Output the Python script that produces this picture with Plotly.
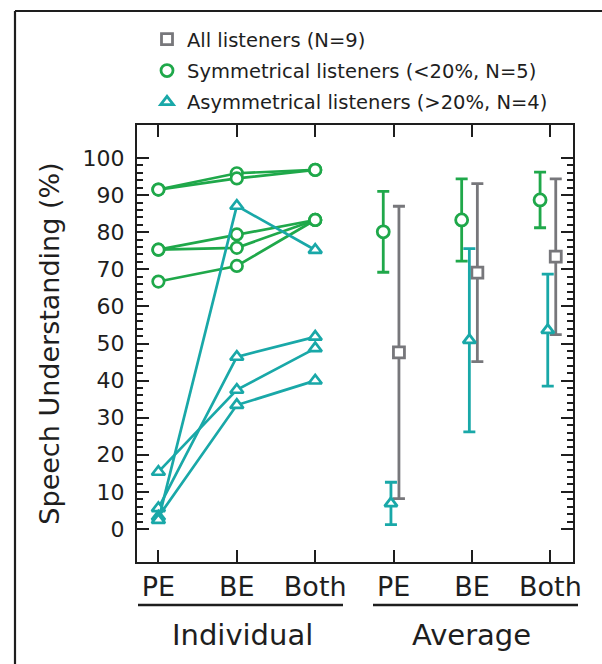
import plotly.graph_objects as go

# ---------------- data ----------------
categories = ["PE", "BE", "Both"]
cat_pos_individual = [1, 2, 3]
cat_pos_average = [4, 5, 6]
tick_labels = ["PE", "BE", "Both", "PE", "BE", "Both"]

# Individual listeners (symmetrical, <20%)
sym_listeners = [
    [91.5, 95.9, 96.8],
    [91.5, 94.5, 96.8],
    [75.3, 79.4, 83.3],
    [75.3, 75.8, 83.3],
    [66.7, 70.9, 83.3],
]
# Individual listeners (asymmetrical, >20%)
asym_listeners = [
    [15.4, 37.5, 48.7],
    [5.6, 46.4, 51.8],
    [3.3, 33.4, 40.0],
    [2.4, 87.1, 75.2],
]

# Averages and error bars
avg_all = [47.6, 69.1, 73.4]
err_all = [39.4, 24.0, 21.0]
avg_sym = [80.1, 83.3, 88.7]
err_sym = [10.9, 11.1, 7.5]
avg_asym = [6.9, 50.9, 53.6]
err_asym = [5.7, 24.7, 15.1]

legend_names = ["All listeners (N=9)",
                "Symmetrical listeners (<20%, N=5)",
                "Asymmetrical listeners (>20%, N=4)"]

# ---------------- styles ----------------
GREEN = "#1fa84a"
TEAL = "#19a8a8"
GRAY = "#77777b"
INK = "#1e1e1e"
FONT = "DejaVu Sans"

W, H = 602, 664
L, R, T, B = 137, 573, 125, 562


def px_x(px):
    return (px - L) / (R - L)


def px_y(py):
    return (B - py) / (B - T)


fig = go.Figure()

for vals in sym_listeners:
    fig.add_trace(go.Scatter(
        x=cat_pos_individual, y=vals, mode="lines+markers",
        line=dict(color=GREEN, width=2.7),
        marker=dict(symbol="circle", size=11.5, color="white",
                    line=dict(color=GREEN, width=2.7)),
        showlegend=False, hoverinfo="skip"))

for vals in asym_listeners:
    fig.add_trace(go.Scatter(
        x=cat_pos_individual, y=vals, mode="lines+markers",
        line=dict(color=TEAL, width=2.7),
        marker=dict(symbol="triangle-up", size=11.5, color="white",
                    line=dict(color=TEAL, width=2.7)),
        showlegend=False, hoverinfo="skip"))

offs = {"all": 0.068, "sym": -0.132, "asym": -0.034}

fig.add_trace(go.Scatter(
    x=[p + offs["all"] for p in cat_pos_average], y=avg_all, mode="markers",
    name=legend_names[0], legendgroup="a",
    error_y=dict(type="data", array=err_all, color=GRAY, thickness=2.8, width=6),
    marker=dict(symbol="square", size=11, color="white",
                line=dict(color=GRAY, width=2.8))))
fig.add_trace(go.Scatter(
    x=[p + offs["sym"] for p in cat_pos_average], y=avg_sym, mode="markers",
    name=legend_names[1], legendgroup="b",
    error_y=dict(type="data", array=err_sym, color=GREEN, thickness=2.8, width=6),
    marker=dict(symbol="circle", size=12, color="white",
                line=dict(color=GREEN, width=2.8))))
fig.add_trace(go.Scatter(
    x=[p + offs["asym"] for p in cat_pos_average], y=avg_asym, mode="markers",
    name=legend_names[2], legendgroup="c",
    error_y=dict(type="data", array=err_asym, color=TEAL, thickness=2.8, width=6),
    marker=dict(symbol="triangle-up", size=11, color="white",
                line=dict(color=TEAL, width=2.8))))

shapes = [
    # outer frame (partial)
    dict(type="line", xref="paper", yref="paper", x0=px_x(15), x1=px_x(15),
         y0=px_y(11), y1=px_y(664), line=dict(color=INK, width=2.2)),
    dict(type="line", xref="paper", yref="paper", x0=px_x(15), x1=px_x(602),
         y0=px_y(11), y1=px_y(11), line=dict(color=INK, width=2.2)),
    # group underlines
    dict(type="line", xref="paper", yref="paper", x0=px_x(138), x1=px_x(343),
         y0=px_y(605), y1=px_y(605), line=dict(color=INK, width=2.6)),
    dict(type="line", xref="paper", yref="paper", x0=px_x(373), x1=px_x(578),
         y0=px_y(605), y1=px_y(605), line=dict(color=INK, width=2.6)),
]

annotations = [
    dict(text="Individual", xref="paper", yref="paper", x=px_x(242), y=px_y(635),
         showarrow=False, xanchor="center", yanchor="middle",
         font=dict(family=FONT, size=29, color=INK)),
    dict(text="Average", xref="paper", yref="paper", x=px_x(471), y=px_y(635),
         showarrow=False, xanchor="center", yanchor="middle",
         font=dict(family=FONT, size=29, color=INK)),
]

minor_y = [v for v in range(2, 100, 2) if v % 10 != 0]

fig.update_layout(
    width=W, height=H,
    margin=dict(l=L, r=W - R, t=T, b=H - B, autoexpand=False),
    paper_bgcolor="white", plot_bgcolor="white",
    font=dict(family=FONT, color=INK),
    showlegend=True,
    legend=dict(x=px_x(147), y=px_y(20), xanchor="left", yanchor="top",
                xref="paper", yref="paper", traceorder="grouped",
                tracegroupgap=3, bgcolor="rgba(0,0,0,0)",
                font=dict(family=FONT, size=19.5, color=INK)),
    shapes=shapes, annotations=annotations,
    xaxis=dict(range=[0.727, 6.288], tickmode="array",
               tickvals=cat_pos_individual + cat_pos_average,
               ticktext=tick_labels, ticks="inside", ticklen=12, tickwidth=2,
               tickcolor=INK, showline=True, linecolor=INK, linewidth=2,
               mirror="ticks", showgrid=False, zeroline=False,
               ticklabelstandoff=0,
               tickfont=dict(family=FONT, size=27, color=INK)),
    yaxis=dict(range=[-8.9, 108.9], tickmode="array",
               tickvals=list(range(0, 101, 10)),
               ticks="inside", ticklen=12, tickwidth=2, tickcolor=INK,
               minor=dict(tickmode="array", tickvals=minor_y, ticks="inside",
                          ticklen=6, tickwidth=2, tickcolor=INK),
               showline=True, linecolor=INK, linewidth=2, mirror="ticks",
               showgrid=False, zeroline=False,
               ticklabelstandoff=6,
               tickfont=dict(family=FONT, size=22, color=INK),
               title=dict(text="Speech Understanding (%)",
                          font=dict(family=FONT, size=27, color=INK),
                          standoff=15)),
)

fig.write_html(
    "out.html",
    config={"displayModeBar": False, "staticPlot": True},
    post_script="document.body.style.margin='0px';"
                "document.body.style.overflow='hidden';")
